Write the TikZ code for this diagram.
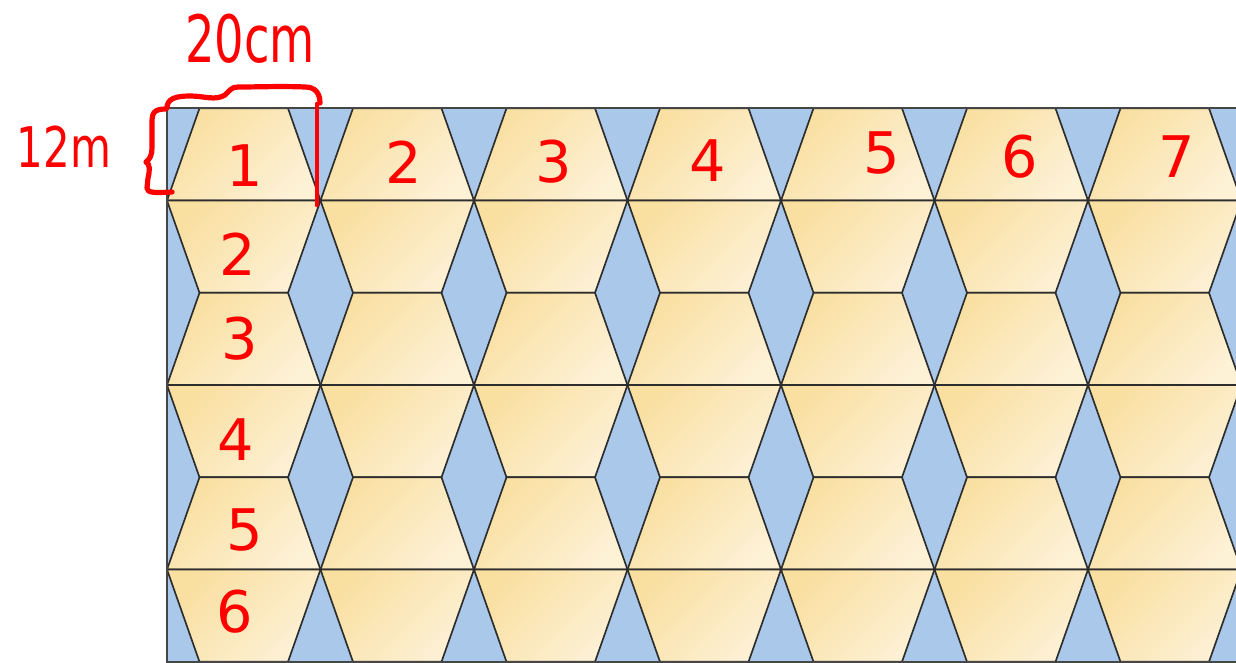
\documentclass[tikz,border=0pt]{standalone}
\usepackage{fontspec}
\usepackage{graphicx}
\newfontfamily\handfont{DejaVu Sans}
\definecolor{tileblue}{RGB}{170,200,234}
\definecolor{tiledark}{RGB}{249,223,160}
\definecolor{tilelight}{RGB}{253,241,214}
\definecolor{edgecol}{RGB}{45,45,45}
\definecolor{framecol}{RGB}{70,70,70}
\definecolor{inkred}{RGB}{255,0,0}
\tikzset{
  tile/.style={draw=edgecol, line width=1.25pt, line join=round,
    top color=tiledark, bottom color=tilelight, shading angle=45},
  frameline/.style={draw=framecol, line width=1.8pt},
  ink/.style={draw=inkred, line width=3.9pt, line cap=round, line join=round},
  digit/.style={text=inkred, inner sep=0pt, font=\handfont\fontsize{43}{43}\selectfont}
}
\begin{document}
\begin{tikzpicture}[x=0.75pt,y=-0.75pt]
\useasboundingbox (0,0) rectangle (1236,663);
\begin{scope}
  \clip (167,108.3) rectangle (1236,661.8);
  \fill[tileblue] (167,108.3) rectangle (1236,661.8);
  \foreach \k in {0,...,7}{
    \foreach \m in {0,1,2}{
      \pgfmathsetmacro\xa{167+153.5*\k}
      \pgfmathsetmacro\xb{\xa+153.5}
      \pgfmathsetmacro\ya{108.3+184.5*\m}
      \pgfmathsetmacro\yb{\ya+92.25}
      \pgfmathsetmacro\yc{\ya+184.5}
      \path[tile] (\xa+32.5,\ya) -- (\xb-32.5,\ya) -- (\xb,\yb) -- (\xa,\yb) -- cycle;
      \path[tile] (\xa,\yb) -- (\xb,\yb) -- (\xb-32.5,\yc) -- (\xa+32.5,\yc) -- cycle;
    }
  }
\end{scope}
\draw[frameline] (1236,108.3) -- (167,108.3) -- (167,661.8) -- (1236,661.8);

% column numbers
\node[digit] (c1) at (245,166) {1};
\node[digit] (c2) at (404,162) {2};
\node[digit] (c3) at (554,162) {3};
\node[digit] (c4) at (708,161) {4};
\node[digit] (c5) at (882,153) {5};
\node[digit] (c6) at (1020,157) {6};
\node[digit] (c7) at (1177,157) {7};
% row numbers
\node[digit] (r2) at (238,254) {2};
\node[digit] (r3) at (240,339) {3};
\node[digit] (r4) at (236,440) {4};
\node[digit] (r5) at (245,530) {5};
\node[digit] (r6) at (235,612) {6};

% dimension annotations
\node[text=inkred, inner sep=0pt, font=\handfont\fontsize{49}{49}\selectfont] (width) at (250,39) {\scalebox{0.71}[1]{20cm}};
\node[text=inkred, inner sep=0pt, font=\handfont\fontsize{42}{42}\selectfont] (height) at (64,147) {\scalebox{0.75}[1]{12m}};

% braces and mark
\draw[ink] (167,108) .. controls (167,99) and (175,96) .. (190,96)
  .. controls (205,96) and (215,101) .. (225,95)
  .. controls (230,90) and (232,87) .. (238,87)
  .. controls (260,87) and (280,86) .. (305,87)
  .. controls (315,87) and (320,93) .. (320,103);
\draw[ink] (166,109) .. controls (155,109) and (152,112) .. (152,122)
  -- (152,148) .. controls (152,155) and (150,159) .. (146,162)
  .. controls (150,164) and (150,170) .. (148,178)
  -- (147,188) .. controls (147,193) and (155,193) .. (172,192);
\draw[ink, line width=3.4pt] (317,104) -- (317,205);
\end{tikzpicture}
\end{document}
